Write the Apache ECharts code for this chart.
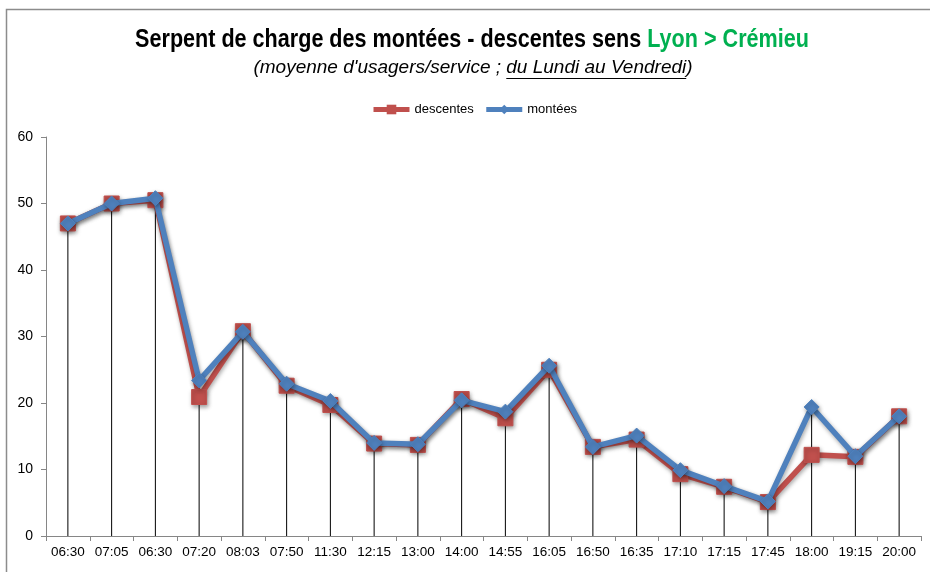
<!DOCTYPE html>
<html>
<head>
<meta charset="utf-8">
<script src="https://cdn.jsdelivr.net/npm/echarts@6/dist/echarts.min.js"></script>
<style>
  html, body { margin: 0; padding: 0; background: #fff; }
  #chart { width: 930px; height: 572px; }
</style>
</head>
<body>
<div id="chart"></div>
<script>
// Passages (service departure times)
const categories = ['06:30', '07:05', '06:30', '07:20', '08:03', '07:50', '11:30', '12:15', '13:00', '14:00',
                    '14:55', '16:05', '16:50', '16:35', '17:10', '17:15', '17:45', '18:00', '19:15', '20:00'];
// Average riders per service
const descentes = [47.0, 50.0, 50.5, 20.9, 30.8, 22.6, 19.7, 13.9, 13.7, 20.6,
                   17.7, 25.0, 13.4, 14.5, 9.3, 7.4, 5.1, 12.2, 11.9, 18.0];
const montees   = [47.0, 50.0, 50.8, 23.4, 30.7, 22.9, 20.3, 14.0, 13.8, 20.4,
                   18.7, 25.6, 13.4, 15.1, 9.9, 7.5, 5.2, 19.4, 12.0, 18.0];
const yTicks = { min: 0, max: 60, interval: 10 };

const FONT = '"Liberation Sans", Arial, sans-serif';
const RED = '#C0504D';
const BLUE = '#4F81BD';

// Drop lines reach up to the higher of the two series at each service
const dropTop = categories.map((_, i) => Math.max(descentes[i], montees[i]));

const chart = echarts.init(document.getElementById('chart'), null, { renderer: 'canvas' });

// Measure subtitle parts so the underline sits under "du Lundi au Vendredi"
const subFont = 'italic 19px ' + FONT;
const ctx = document.createElement('canvas').getContext('2d');
ctx.font = subFont;
const subParts = ["(moyenne d'usagers/service ; ", 'du Lundi au Vendredi', ')'];
const subW = subParts.map(s => ctx.measureText(s).width);
const subTotal = subW.reduce((a, b) => a + b, 0);
const subCx = 473, subY = 68;
const subX0 = subCx - subTotal / 2;

const shadow = { shadowColor: 'rgba(0,0,0,0.35)', shadowBlur: 4, shadowOffsetX: 1, shadowOffsetY: 2 };

chart.setOption({
  animation: false,
  backgroundColor: '#fff',
  graphic: [
    { type: 'rect', shape: { x: 6.5, y: 9.5, width: 940, height: 600 },
      style: { fill: 'none', stroke: '#8c8c8c', lineWidth: 1.5 }, silent: true },
    { type: 'text', x: 472, y: 40, scaleX: 0.83,
      style: {
        text: '{k|Serpent de charge des montées - descentes sens }{g|Lyon > Crémieu}',
        align: 'center', verticalAlign: 'middle',
        rich: {
          k: { font: 'bold 26px ' + FONT, fill: '#000' },
          g: { font: 'bold 26px ' + FONT, fill: '#00B050' }
        }
      } },
    { type: 'text', x: subX0, y: subY,
      style: { text: subParts.join(''), font: subFont, fill: '#000',
               align: 'left', verticalAlign: 'middle' } },
    { type: 'line', silent: true,
      shape: { x1: subX0 + subW[0], y1: subY + 10.5, x2: subX0 + subW[0] + subW[1], y2: subY + 10.5 },
      style: { stroke: '#000', lineWidth: 1 } }
  ],
  legend: {
    data: ['descentes', 'montées'],
    left: 366, top: 98,
    itemWidth: 36, itemHeight: 12, itemGap: 10,
    lineStyle: { width: 5 },
    textStyle: { fontFamily: FONT, fontSize: 13, color: '#000' }
  },
  grid: { left: 46, right: 9, top: 137, bottom: 36, containLabel: false },
  xAxis: {
    type: 'category',
    data: categories,
    boundaryGap: true,
    axisLine: { lineStyle: { color: '#868686', width: 1 } },
    axisTick: { show: true, alignWithLabel: false, length: 5, lineStyle: { color: '#868686' } },
    axisLabel: { fontFamily: FONT, fontSize: 13.5, color: '#000', margin: 9, interval: 0 },
    splitLine: { show: false }
  },
  yAxis: {
    type: 'value',
    min: yTicks.min, max: yTicks.max, interval: yTicks.interval,
    axisLine: { show: true, lineStyle: { color: '#868686', width: 1 } },
    axisTick: { show: true, length: 5, lineStyle: { color: '#868686' } },
    axisLabel: { fontFamily: FONT, fontSize: 14, color: '#000', margin: 13 },
    splitLine: { show: false }
  },
  series: [
    {
      name: 'drop', type: 'bar', data: dropTop, barWidth: 1, silent: true,
      itemStyle: { color: '#000' }, z: 1, legendHoverLink: false
    },
    {
      name: 'descentes', type: 'line', data: descentes, z: 3,
      symbol: 'rect', symbolSize: 15,
      lineStyle: Object.assign({ color: RED, width: 5.5 }, shadow),
      itemStyle: Object.assign({ color: RED, borderColor: RED }, shadow)
    },
    {
      name: 'montées', type: 'line', data: montees, z: 4,
      symbol: 'diamond', symbolSize: 15,
      lineStyle: Object.assign({ color: BLUE, width: 5.5 }, shadow),
      itemStyle: Object.assign({ color: BLUE, borderColor: BLUE }, shadow)
    }
  ]
});
</script>
</body>
</html>
